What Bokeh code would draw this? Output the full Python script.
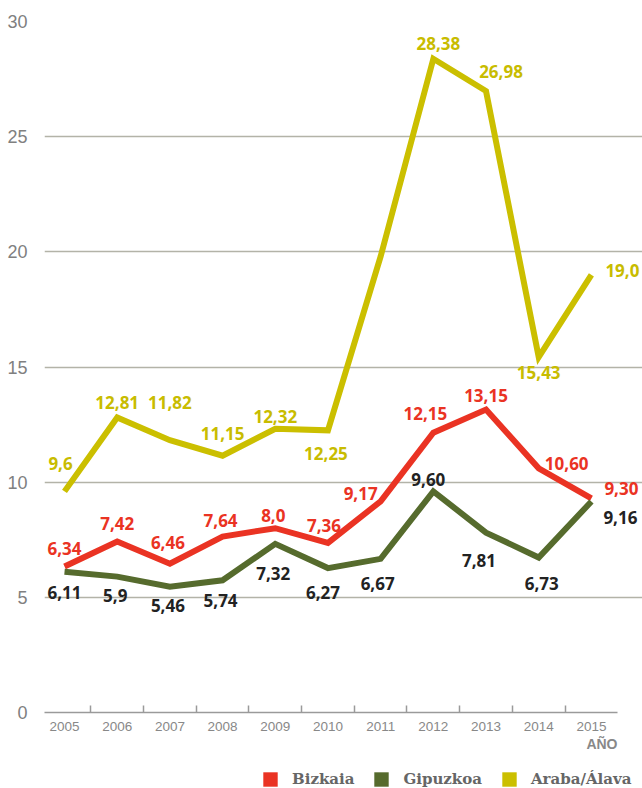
from bokeh.plotting import figure
from bokeh.layouts import column
from bokeh.models import ColumnDataSource, FixedTicker, Range1d, Legend, LegendItem, Title
from bokeh.core.properties import value
from bokeh.embed import file_html
from bokeh.resources import INLINE

# ---------------- data ----------------
years = ["2005", "2006", "2007", "2008", "2009", "2010", "2011", "2012", "2013", "2014", "2015"]

bizkaia = [6.34, 7.42, 6.46, 7.64, 8.0, 7.36, 9.17, 12.15, 13.15, 10.60, 9.30]
bizkaia_labels = ["6,34", "7,42", "6,46", "7,64", "8,0", "7,36", "9,17", "12,15", "13,15", "10,60", "9,30"]

gipuzkoa = [6.11, 5.9, 5.46, 5.74, 7.32, 6.27, 6.67, 9.60, 7.81, 6.73, 9.16]
gipuzkoa_labels = ["6,11", "5,9", "5,46", "5,74", "7,32", "6,27", "6,67", "9,60", "7,81", "6,73", "9,16"]

araba = [9.6, 12.81, 11.82, 11.15, 12.32, 12.25, 19.8, 28.38, 26.98, 15.43, 19.0]
araba_labels = ["9,6", "12,81", "11,82", "11,15", "12,32", "12,25", "", "28,38", "26,98", "15,43", "19,0"]

y_ticks = [0, 5, 10, 15, 20, 25, 30]
series_names = ["Bizkaia", "Gipuzkoa", "Araba/Álava"]
x_title = "AÑO"

# ---------------- styles / label placement (pixels) ----------------
RED = "#ea3323"
GREEN = "#566b2d"
YELLOW = "#cbbf00"

bizkaia_dx = [0, 0, -2, -2, -2, -4, -20, -8, 0, 28, 30]
bizkaia_dy = [-18, -18, -21, -16, -13, -17, -8, -19, -14, -5, -10]
gipuzkoa_dx = [0, -2, -2, -2, -2, -5, -3, -5, -7, 3, 29]
gipuzkoa_dy = [21, 19, 19, 20, 30, 24, 25, -12, 28, 26, 16]
araba_dx = [-4, 0, 0, 0, 0, -2, 0, 5, 15, 0, 31]
araba_dy = [-28, -15, -38, -22, -12, 23, 0, -15, -20, 15, -4]

x = list(range(len(years)))

p = figure(width=642, height=760, output_backend="svg", toolbar_location=None,
           x_range=Range1d(-0.38, 10.97), y_range=Range1d(0, 30),
           min_border_left=44, min_border_right=0, min_border_top=21, min_border_bottom=48)
p.outline_line_color = None
p.background_fill_color = "white"

# x axis
p.xaxis.ticker = FixedTicker(ticks=x, minor_ticks=[i - 0.5 for i in x])
p.xaxis.major_label_overrides = {i: years[i] for i in x}
p.xaxis.bounds = (-0.38, 10.5)
p.xaxis.major_tick_line_color = None
p.xaxis.minor_tick_in = 7
p.xaxis.minor_tick_out = 0
p.xaxis.minor_tick_line_color = "#9a9a9a"
p.xaxis.minor_tick_line_width = 1.5
p.xaxis.axis_line_color = "#9a9a9a"
p.xaxis.axis_line_width = 1.5
p.xaxis.major_label_standoff = 3
p.xaxis.major_label_text_font = "Liberation Sans"
p.xaxis.major_label_text_font_size = "13.5px"
p.xaxis.major_label_text_color = "#888888"

# y axis
p.yaxis.ticker = FixedTicker(ticks=y_ticks)
p.yaxis.axis_line_color = None
p.yaxis.major_tick_line_color = None
p.yaxis.minor_tick_line_color = None
p.yaxis.major_label_standoff = 11
p.yaxis.major_label_text_font = "Liberation Sans"
p.yaxis.major_label_text_font_size = "18px"
p.yaxis.major_label_text_color = "#808080"

p.xgrid.grid_line_color = None
p.ygrid.ticker = FixedTicker(ticks=y_ticks[1:])
p.ygrid.grid_line_color = "#b3b3a8"
p.ygrid.grid_line_width = 1.5

# lines
for vals, col in ((araba, YELLOW), (bizkaia, RED), (gipuzkoa, GREEN)):
    p.line(x, vals, line_color=col, line_width=6, line_join="miter")

# value labels
for vals, labs, dx, dy, col in (
    (araba, araba_labels, araba_dx, araba_dy, "#c8bc00"),
    (bizkaia, bizkaia_labels, bizkaia_dx, bizkaia_dy, RED),
    (gipuzkoa, gipuzkoa_labels, gipuzkoa_dx, gipuzkoa_dy, "#222222"),
):
    src = ColumnDataSource(dict(x=x, y=vals, text=labs, dx=dx, dy=dy))
    p.text(x="x", y="y", text="text", x_offset="dx", y_offset="dy", source=src,
           text_font=value("Open Sans"), text_font_style="bold", text_font_size="17px",
           text_align="center", text_baseline="middle", text_color=col)

# axis title "AÑO" under the last year
t = Title(text=x_title, align="right", offset=25, text_font="Liberation Sans",
          text_font_size="14px", text_font_style="bold", text_color="#888888", standoff=0)
p.add_layout(t, "below")

# ---------------- legend strip ----------------
lg = figure(width=642, height=28, output_backend="svg", toolbar_location=None,
            x_range=Range1d(0, 1), y_range=Range1d(0, 1),
            x_axis_type=None, y_axis_type=None,
            min_border_left=0, min_border_right=0, min_border_top=0, min_border_bottom=0)
lg.outline_line_color = None
lg.xgrid.visible = False
lg.ygrid.visible = False

# swatches: zero-area quads on the series (invisible themselves, filled squares in the legend)
swatches = []
for vals, col in ((bizkaia, RED), (gipuzkoa, GREEN), (araba, YELLOW)):
    r = lg.quad(left=x, right=x, top=vals, bottom=vals, fill_color=col, line_color=None)
    swatches.append(r)

legend = Legend(items=[LegendItem(label=n, renderers=[r]) for n, r in zip(series_names, swatches)],
                orientation="horizontal", location=(217, 0),
                border_line_color=None, background_fill_alpha=0,
                glyph_width=18, glyph_height=18, label_height=18,
                label_standoff=13, spacing=18, padding=0, margin=0,
                label_text_font="DejaVu Serif", label_text_font_style="bold",
                label_text_font_size="15px", label_text_color="#666666")
lg.add_layout(legend, "center")

open("out.html", "w").write(file_html(column(p, lg), INLINE))
